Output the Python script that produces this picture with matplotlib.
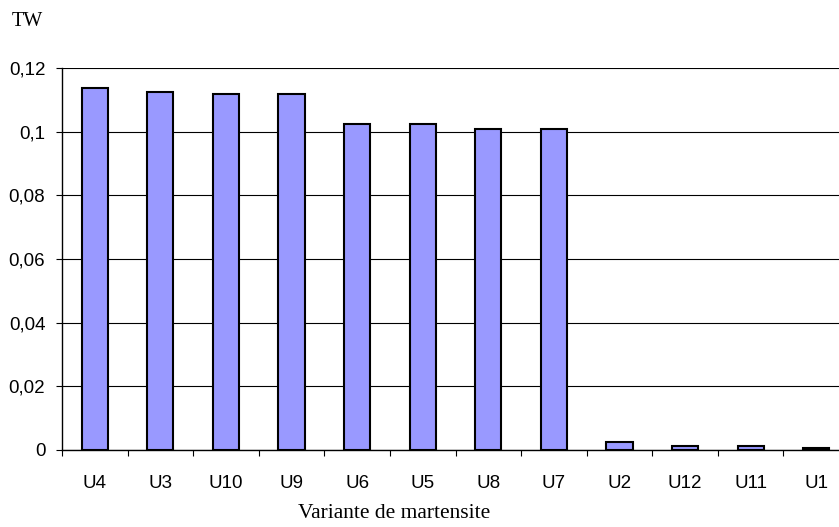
import matplotlib
matplotlib.use("Agg")
import matplotlib.pyplot as plt
import numpy as np

categories = ["U4", "U3", "U10", "U9", "U6", "U5", "U8", "U7", "U2", "U12", "U11", "U1"]
values = [0.1137, 0.1125, 0.1118, 0.1118, 0.1024, 0.1024, 0.1008, 0.1008, 0.0025, 0.0012, 0.0012, 0.0005]
yticks = [0, 0.02, 0.04, 0.06, 0.08, 0.1, 0.12]
ytick_labels = ["0", "0,02", "0,04", "0,06", "0,08", "0,1", "0,12"]

fig = plt.figure(figsize=(8.39, 5.27), dpi=100)
ax = fig.add_axes([62/839, 77/527, (849 - 62)/839, (450-68)/527])

x = np.arange(len(categories))
ax.bar(x, values, width=0.4, color="#9999ff", edgecolor="black", linewidth=1.5, zorder=3)

ax.set_xlim(-0.5, len(categories) - 0.5)
ax.set_ylim(0, 0.12)
ax.set_yticks(yticks)
ax.set_yticklabels(ytick_labels, fontsize=13.5, family="Liberation Sans")
ax.yaxis.grid(True, color="black", linewidth=0.8, zorder=0)
for s in ["top", "right"]:
    ax.spines[s].set_visible(False)
ax.spines["left"].set_linewidth(1.0)
ax.spines["bottom"].set_linewidth(1.0)

ax.set_xticks(np.arange(len(categories) + 1) - 0.5)
ax.set_xticklabels([])
ax.set_xticks(x, minor=True)
ax.set_xticklabels(categories, minor=True, fontsize=13.5, family="Liberation Sans")
ax.tick_params(axis="x", which="major", length=4, direction="out")
ax.tick_params(axis="x", which="minor", length=0, pad=18)
ax.tick_params(axis="y", length=4, pad=8)

fig.text(12/839, 1 - 21/527, "TW", fontsize=14.5, family="Liberation Serif", va="center", ha="left")
fig.text(394/839, 1 - 513/527, "Variante de martensite", fontsize=15.5, family="Liberation Serif", va="center", ha="center")

fig.savefig("out.png", dpi=100)
